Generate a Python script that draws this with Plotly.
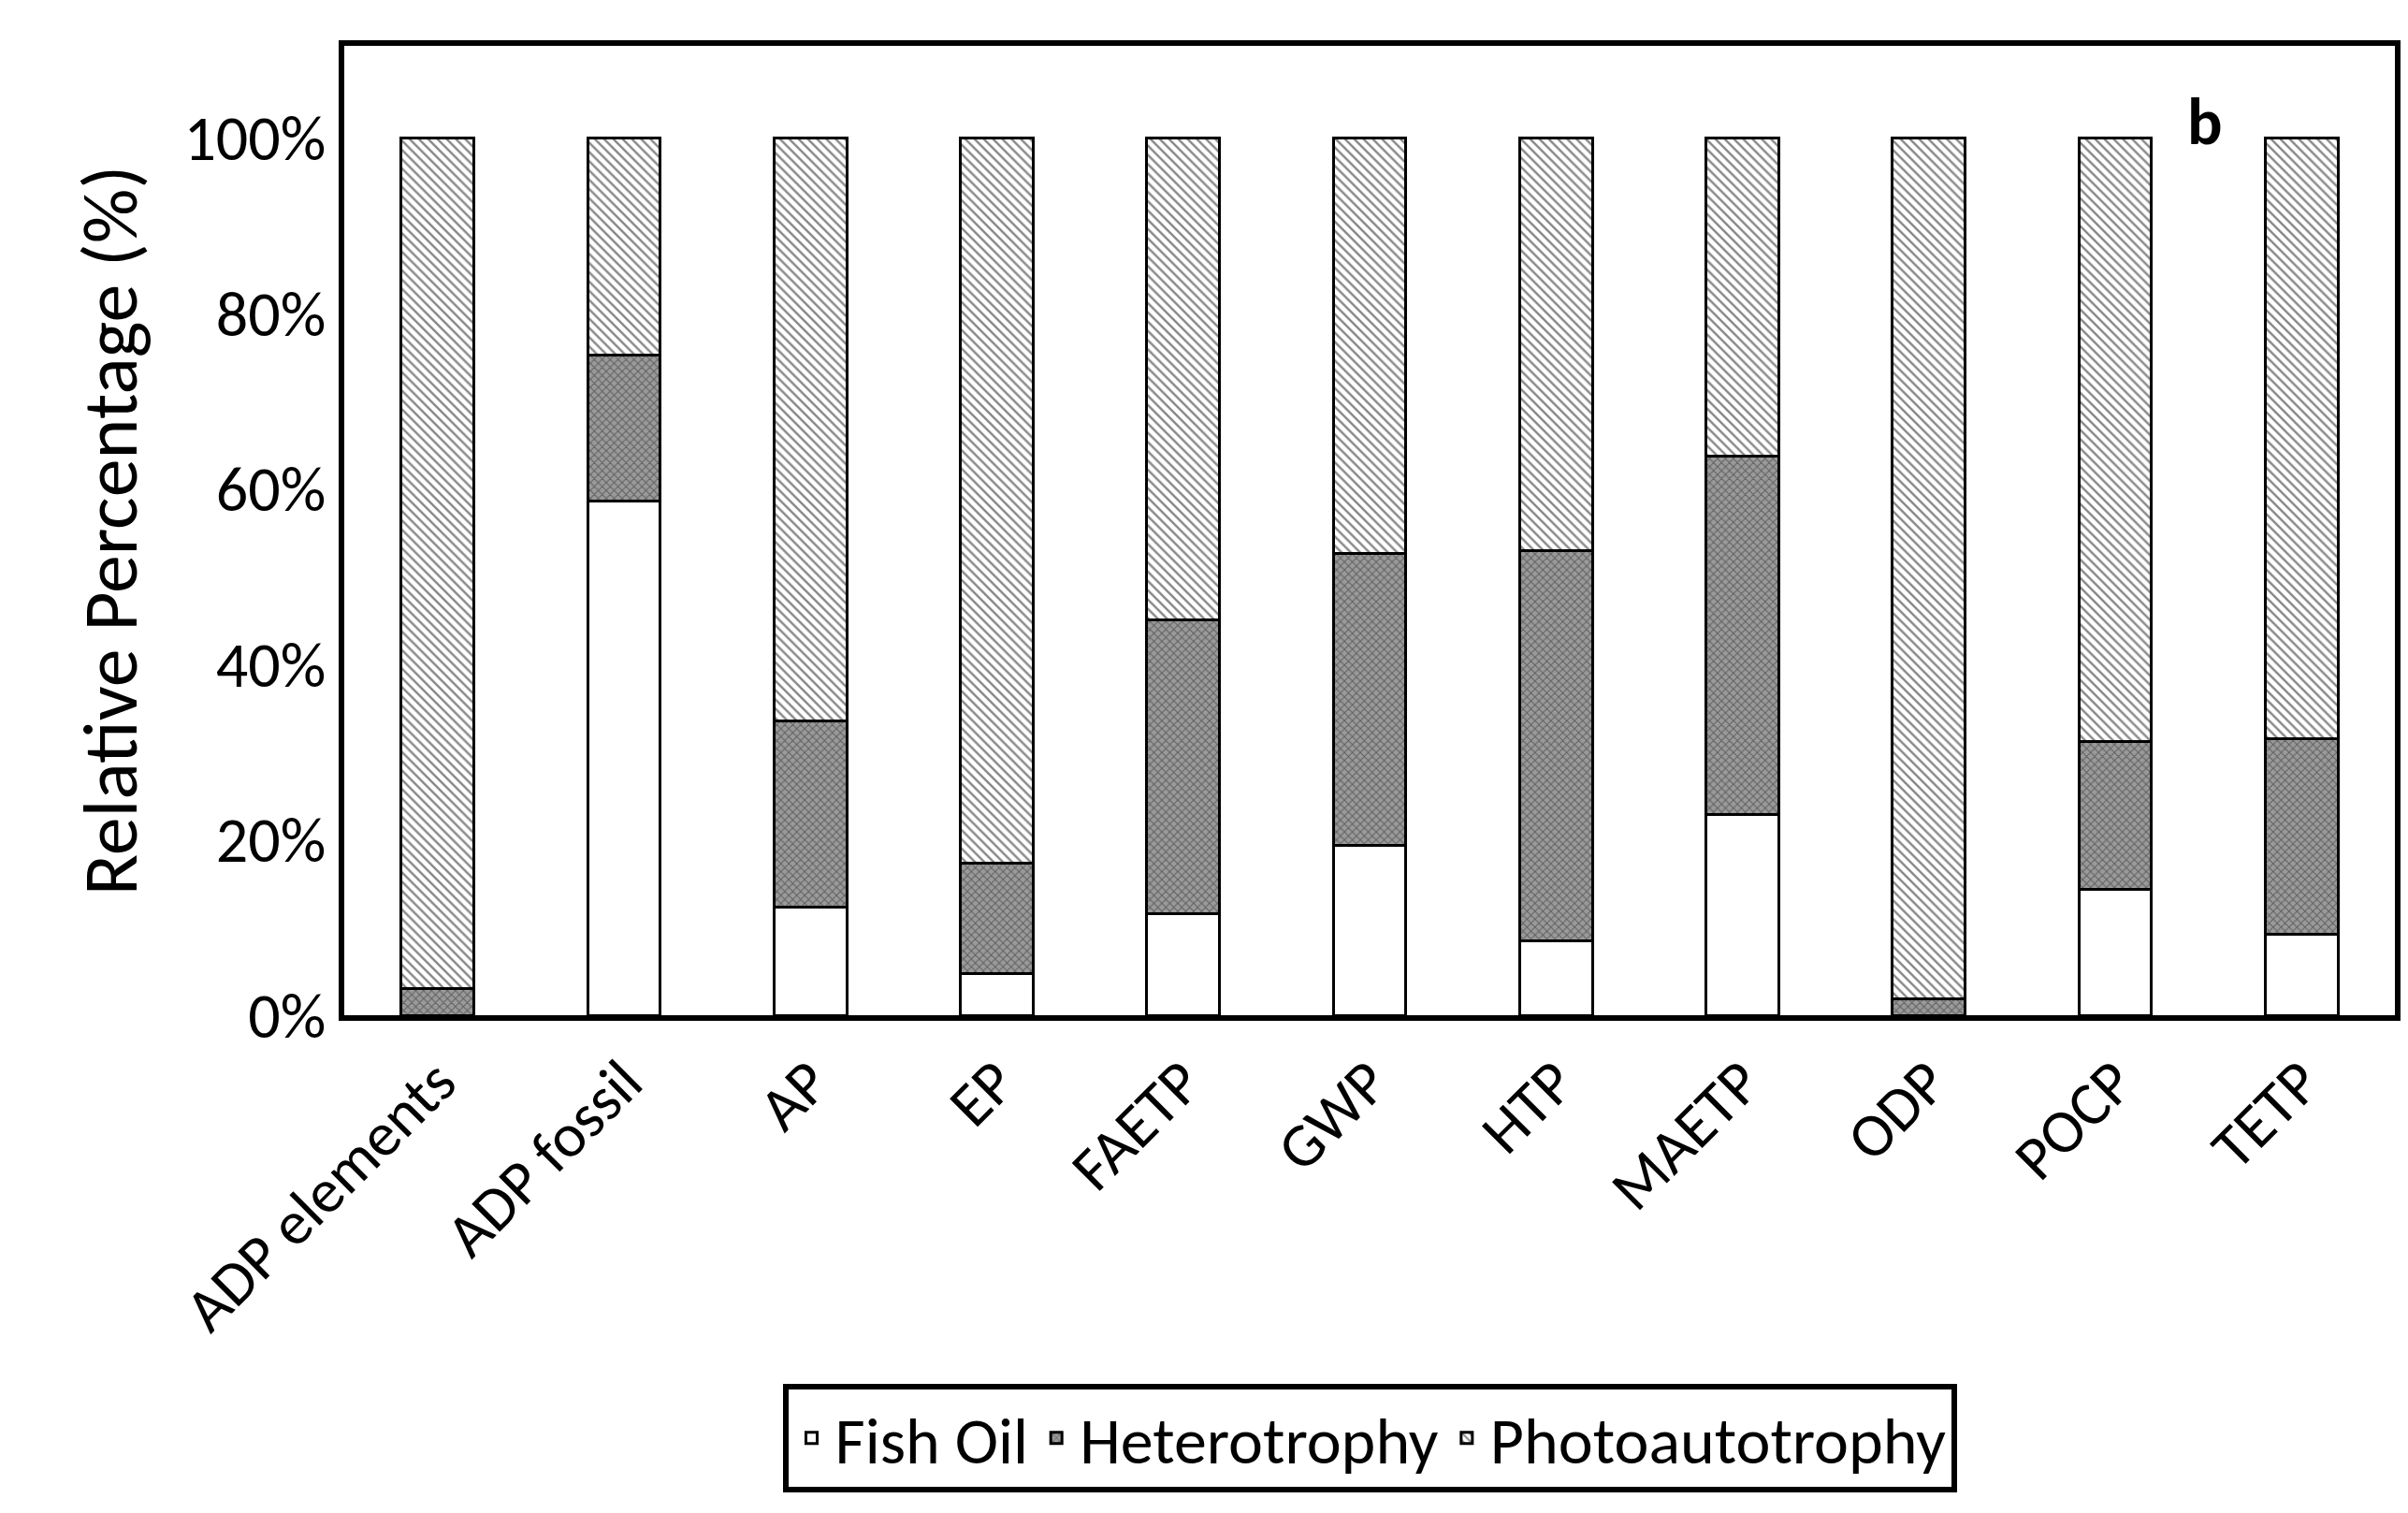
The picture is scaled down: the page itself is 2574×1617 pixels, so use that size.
import plotly.graph_objects as go

categories = ["ADP elements", "ADP fossil", "AP", "EP", "FAETP", "GWP", "HTP",
              "MAETP", "ODP", "POCP", "TETP"]
fish_oil = [0.0, 58.6, 12.3, 4.8, 11.6, 19.4, 8.5, 22.9, 0.0, 14.3, 9.2]
heterotrophy = [3.0, 16.6, 21.2, 12.5, 33.5, 33.2, 44.5, 40.8, 1.9, 16.9, 22.3]
photoautotrophy = [97.0, 24.8, 66.5, 82.7, 54.9, 47.4, 47.0, 36.3, 98.1, 68.8, 68.5]

font = "Calibri, Carlito, 'Open Sans', sans-serif"
line = dict(color="black", width=3)

fig = go.Figure()
fig.add_trace(go.Bar(x=categories, y=fish_oil, name="Fish Oil",
                     marker=dict(color="white", line=line)))
fig.add_trace(go.Bar(x=categories, y=heterotrophy, name="Heterotrophy",
                     marker=dict(color="#8c8c8c", line=line,
                                 pattern=dict(shape="x", fgcolor="#222222", bgcolor="#9a9a9a",
                                              size=6, solidity=0.3))))
fig.add_trace(go.Bar(x=categories, y=photoautotrophy, name="Photoautotrophy",
                     marker=dict(color="white", line=line,
                                 pattern=dict(shape="\\", fgcolor="#111111", bgcolor="white",
                                              size=7, solidity=0.35))))

fig.update_layout(
    barmode="stack", bargap=0.61,
    width=2574, height=1617,
    paper_bgcolor="white", plot_bgcolor="white",
    margin=dict(l=360, r=22, t=41, b=540),
    font=dict(family=font, size=68, color="black"),
    showlegend=True,
    legend=dict(orientation="h", x=0.5, xanchor="center", y=-0.38, yanchor="top",
                traceorder="normal", bordercolor="black", borderwidth=6,
                font=dict(size=70), itemwidth=40),
    annotations=[dict(text="<b>b</b>", x=0.917, y=0.965, xref="paper", yref="paper",
                      showarrow=False, font=dict(size=70))],
)
fig.update_xaxes(tickangle=-45, showline=True, linecolor="black", linewidth=6,
                 mirror=True, ticks="", tickfont=dict(size=66))
fig.update_yaxes(range=[0, 110.5], tickvals=[0, 20, 40, 60, 80, 100],
                 ticktext=["0%", "20%", "40%", "60%", "80%", "100%"],
                 showgrid=False, showline=True, linecolor="black", linewidth=6,
                 mirror=True, ticks="", title=dict(text="Relative Percentage (%)", standoff=25),
                 zeroline=False)

fig.write_html("out.html")
